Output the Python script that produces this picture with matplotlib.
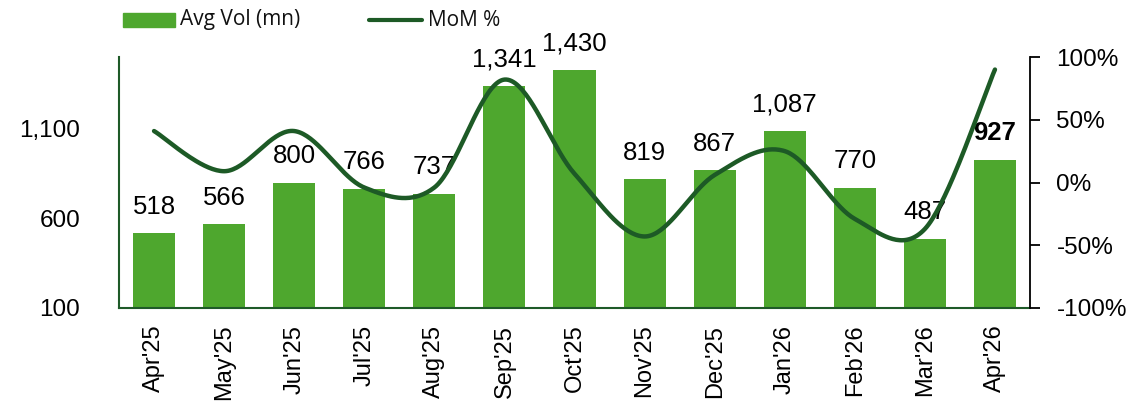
import matplotlib
matplotlib.use("Agg")
import matplotlib.pyplot as plt
import numpy as np
from matplotlib.patches import Rectangle
from matplotlib.lines import Line2D
from matplotlib.ticker import FuncFormatter

categories = ["Apr'25", "May'25", "Jun'25", "Jul'25", "Aug'25", "Sep'25", "Oct'25",
              "Nov'25", "Dec'25", "Jan'26", "Feb'26", "Mar'26", "Apr'26"]
avg_vol = [518, 566, 800, 766, 737, 1341, 1430, 819, 867, 1087, 770, 487, 927]
mom_pct = [41, 9, 41, -4, -4, 82, 7, -43, 6, 25, -29, -37, 90]
left_ticks = [100, 600, 1100]
right_ticks = [-100, -50, 0, 50, 100]

BAR = "#4EA72E"
LINE = "#1D5A26"
SPINE = "#1E5A28"
FONT = ["Liberation Sans", "DejaVu Sans"]

plt.rcParams["font.family"] = FONT

fig = plt.figure(figsize=(11.27, 4.05), dpi=100)
ax = fig.add_axes([119/1127, 1 - 308/405, (1030-119)/1127, (308-57)/405])
x = np.arange(len(categories))

ax.bar(x, avg_vol, width=0.6, color=BAR, zorder=2)
ax.set_xlim(-0.5, len(categories) - 0.5)
ax.set_ylim(100, 1500)
ax.set_yticks(left_ticks)
ax.yaxis.set_major_formatter(FuncFormatter(lambda v, p: f"{int(v):,}"))
ax.tick_params(axis="y", length=0, labelsize=17.5, pad=28)
ax.set_xticks(x)
ax.set_xticklabels(categories, rotation=90, fontsize=17)
ax.tick_params(axis="x", length=0, pad=12)
for s in ["top", "right"]:
    ax.spines[s].set_visible(False)
for s in ["left", "bottom"]:
    ax.spines[s].set_color(SPINE)
    ax.spines[s].set_linewidth(1.5)

for i, v in enumerate(avg_vol):
    bold = (i == len(avg_vol) - 1)
    ax.annotate(f"{v:,}", (x[i], v), xytext=(0, 14), textcoords="offset points",
                ha="center", va="baseline", fontsize=18.5,
                fontweight="bold" if bold else "normal", zorder=5)

ax2 = ax.twinx()
ax2.set_ylim(-100, 100)
ax2.set_yticks(right_ticks)
ax2.yaxis.set_major_formatter(FuncFormatter(lambda v, p: f"{int(v)}%"))
ax2.tick_params(axis="y", length=7, width=1.3, labelsize=17.5, pad=12, color="black")
for s in ["top", "left", "bottom"]:
    ax2.spines[s].set_visible(False)
ax2.spines["right"].set_color("black")
ax2.spines["right"].set_linewidth(1.3)

# smooth (Catmull-Rom / Bezier) rendering of the MoM line
px = x.astype(float)
py = np.array(mom_pct, dtype=float)
P = np.column_stack([px, py])
Pext = np.vstack([P[0], P, P[-1]])
curve = []
t = np.linspace(0, 1, 40)
for i in range(len(P) - 1):
    p0, p1, p2, p3 = Pext[i], Pext[i+1], Pext[i+2], Pext[i+3]
    c1 = p1 + (p2 - p0) / 6
    c2 = p2 - (p3 - p1) / 6
    seg = ((1-t)**3)[:, None]*p1 + (3*(1-t)**2*t)[:, None]*c1 + (3*(1-t)*t**2)[:, None]*c2 + (t**3)[:, None]*p2
    curve.append(seg)
curve = np.vstack(curve)
ax2.plot(curve[:, 0], curve[:, 1], color=LINE, lw=3.2, solid_capstyle="round", zorder=4)

# legend
fig.patches.append(Rectangle((123/1127, 1 - 27/405), 52/1127, 14/405,
                             transform=fig.transFigure, color=BAR))
fig.text(180/1127, 1 - 20/405, "Avg Vol (mn)", fontsize=15, va="center", ha="left",
         family=["Open Sans", "DejaVu Sans"], color="#111111")
fig.lines.append(Line2D([369/1127, 422/1127], [1 - 20/405, 1 - 20/405],
                        transform=fig.transFigure, color=LINE, lw=3, solid_capstyle="round"))
fig.text(428/1127, 1 - 20/405, "MoM %", fontsize=15, va="center", ha="left",
         family=["Open Sans", "DejaVu Sans"], color="#111111")

fig.savefig("out.png", dpi=100)
